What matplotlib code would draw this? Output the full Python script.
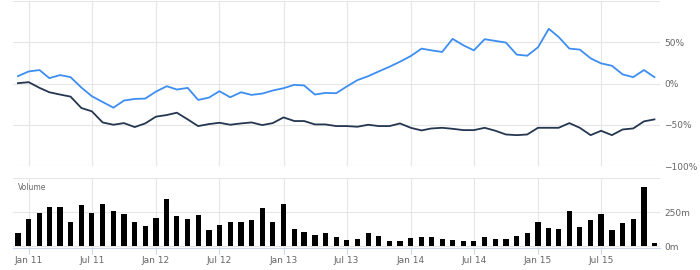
import numpy as np
import pandas as pd
import matplotlib
matplotlib.use("Agg")
import matplotlib.pyplot as plt
import matplotlib.dates as mdates
from matplotlib.ticker import FuncFormatter

# monthly points, Dec 2010 .. Dec 2015
dates = pd.date_range("2010-12-01", "2015-12-01", freq="MS")

blue_pct = [8.9, 14.6, 16.3, 6.5, 10.2, 7.7, -4.9, -15.4, -22.4, -29.3, -20.7, -18.7, -18.3,
            -9.8, -3.3, -7.3, -5.3, -19.9, -17.1, -9.3, -16.7, -10.6, -13.8, -12.2, -8.5,
            -5.7, -1.6, -2.4, -13.4, -11.4, -11.8, -3.7,
            4.1, 8.9, 14.6, 20.3, 26.4, 33.3, 42.3, 40.2, 38.2, 54.1, 46.3, 40.2, 53.7,
            51.6, 49.6, 35.0, 33.7, 43.9, 66.3, 56.5, 42.3, 41.1, 30.5, 24.4, 21.5, 11.0,
            7.7, 16.3, 7.7]

dark_pct = [0.4, 1.6, -5.3, -10.6, -13.4, -15.9, -29.7, -33.7, -47.2, -50.0, -48.0, -52.8,
            -48.4, -40.2, -38.2, -35.4, -43.5, -51.6, -49.2, -47.6, -50.0, -48.4, -47.2,
            -50.4, -48.0, -41.1, -45.5, -45.5, -49.6, -49.6, -51.6, -51.6,
            -52.4, -50.0, -51.6, -51.6, -48.4, -53.7, -56.9, -54.5, -53.7, -54.9, -56.5,
            -56.5, -53.7, -57.3, -61.8, -62.6, -61.8, -53.7, -53.7, -53.7, -48.0, -53.7,
            -62.6, -57.3, -62.6, -55.7, -54.5, -45.9, -43.5]

volume_m = [99, 198, 243, 285, 285, 178, 302, 243, 312, 257, 238, 178, 144, 203, 344, 220,
            198, 230, 119, 151, 173, 173, 188, 280, 178, 307, 124, 104, 82, 99, 69, 45,
            54, 94, 72, 40, 40, 59, 69, 64, 50, 45, 40, 40, 64, 54, 54, 77, 99, 178, 131,
            124, 257, 141, 193, 238, 119, 168, 198, 433, 22]

blue = "#3d8ef0"
dark = "#243650"
grid_c = "#e6e6e6"
label_c = "#666666"
axis_c = "#ccd6eb"

fig = plt.figure(figsize=(7, 2.7), dpi=100)
x0, x1 = 12.7 / 700, 660 / 700
ax = fig.add_axes([x0, 104 / 270, x1 - x0, 165 / 270])
axv = fig.add_axes([x0, 22.5 / 270, x1 - x0, 69.5 / 270], sharex=ax)

xmin = pd.Timestamp("2010-11-16")
xmax = pd.Timestamp("2015-12-17")

ax.plot(dates, blue_pct, color=blue, lw=1.3)
ax.plot(dates, dark_pct, color=dark, lw=1.3)
ax.set_ylim(-100, 100)
ax.set_yticks([-100, -50, 0, 50, 100])
ax.set_xlim(xmin, xmax)


def pct(v, pos):
    if v >= 100:
        return ""
    return f"{int(v)}%".replace("-", "\u2212")


ax.yaxis.set_major_formatter(FuncFormatter(pct))

axv.bar(dates, volume_m, width=15, color="black")
axv.set_ylim(-11, 500)
axv.set_yticks([0, 250, 500])
axv.yaxis.set_major_formatter(FuncFormatter(lambda v, p: "" if v >= 500 else f"{int(v)}m"))
axv.text(0.008, 0.93, "Volume", transform=axv.transAxes, fontsize=5.5, color=label_c,
         va="top", ha="left")

for a in (ax, axv):
    a.xaxis.set_major_locator(mdates.MonthLocator(bymonth=[1, 7]))
    a.grid(True, color=grid_c, lw=0.8)
    a.set_axisbelow(True)
    for s in a.spines.values():
        s.set_visible(False)
    a.yaxis.tick_right()
    a.tick_params(axis="y", length=0, labelsize=6.5, labelcolor=label_c, pad=3)

ax.tick_params(axis="x", length=0, labelbottom=False)
axv.spines["bottom"].set_visible(True)
axv.spines["bottom"].set_color(axis_c)
axv.xaxis.set_major_formatter(mdates.DateFormatter("%b %y"))
axv.tick_params(axis="x", length=4, color=axis_c, labelsize=6.5, labelcolor=label_c, pad=2)

fig.savefig("out.png", dpi=100)
